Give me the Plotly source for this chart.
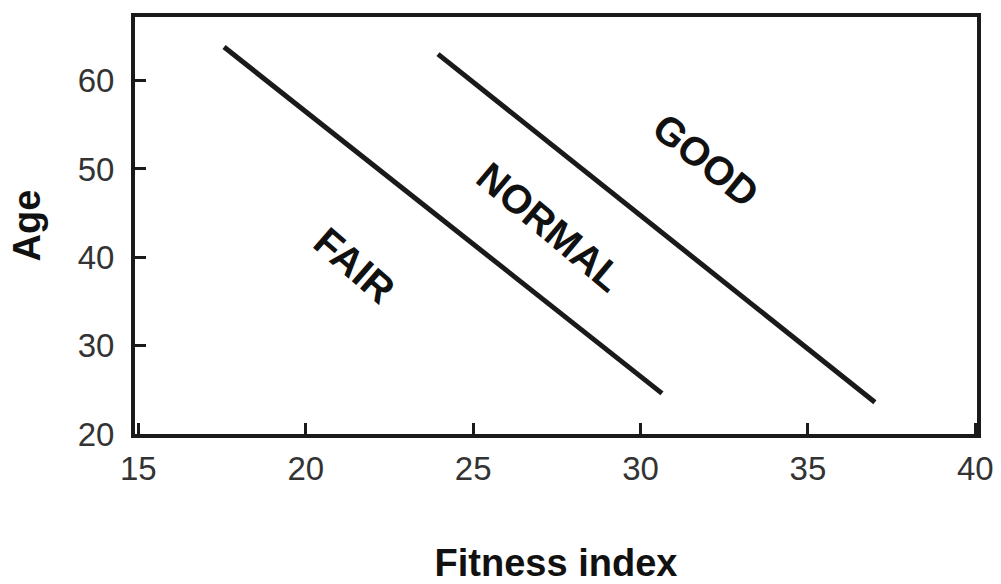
import plotly.graph_objects as go

# Boundary lines (Fitness index vs Age)
fair_normal_x = [17.56, 30.64]
fair_normal_y = [63.8, 24.6]
normal_good_x = [23.95, 37.0]
normal_good_y = [63.0, 23.6]

zone_labels = ["FAIR", "NORMAL", "GOOD"]
zone_x = [21.45, 27.3, 31.95]
zone_y = [39.1, 43.4, 51.0]
zone_angle = [41, 40, 39]

x_ticks = [15, 20, 25, 30, 35, 40]
y_ticks = [20, 30, 40, 50, 60]

fig = go.Figure()
for xs, ys in [(fair_normal_x, fair_normal_y), (normal_good_x, normal_good_y)]:
    fig.add_trace(go.Scatter(x=xs, y=ys, mode="lines",
                             line=dict(color="#1a1a1a", width=5),
                             showlegend=False, hoverinfo="skip"))

for t, x, y, a in zip(zone_labels, zone_x, zone_y, zone_angle):
    fig.add_annotation(x=x, y=y, text="<b>" + t + "</b>", showarrow=False, textangle=a,
                       font=dict(family="Liberation Sans", size=40, color="#111111"))

fig.update_layout(
    width=1001, height=584,
    margin=dict(l=135, r=24, t=17, b=150),
    paper_bgcolor="white", plot_bgcolor="white",
    font=dict(family="Liberation Sans"),
)
fig.update_xaxes(
    range=[14.9, 40.05], tickvals=x_ticks, ticks="inside", ticklen=11, tickwidth=3,
    tickcolor="#1a1a1a", showgrid=False, zeroline=False, automargin=False,
    showline=True, linewidth=4, linecolor="#1a1a1a", mirror=True,
    tickfont=dict(size=33, color="#333333"), ticklabelstandoff=2,
    title=dict(text="<b>Fitness index</b>", font=dict(size=38, color="#111111"), standoff=68),
)
fig.update_yaxes(
    range=[20, 67.2], tickvals=y_ticks, ticks="inside", ticklen=11, tickwidth=3,
    tickcolor="#1a1a1a", showgrid=False, zeroline=False, automargin=False,
    showline=True, linewidth=4, linecolor="#1a1a1a", mirror=True,
    tickfont=dict(size=33, color="#333333"), ticklabelstandoff=10,
    title=dict(text="<b>Age</b>", font=dict(size=38, color="#111111"), standoff=26),
)
fig.write_html("out.html")
